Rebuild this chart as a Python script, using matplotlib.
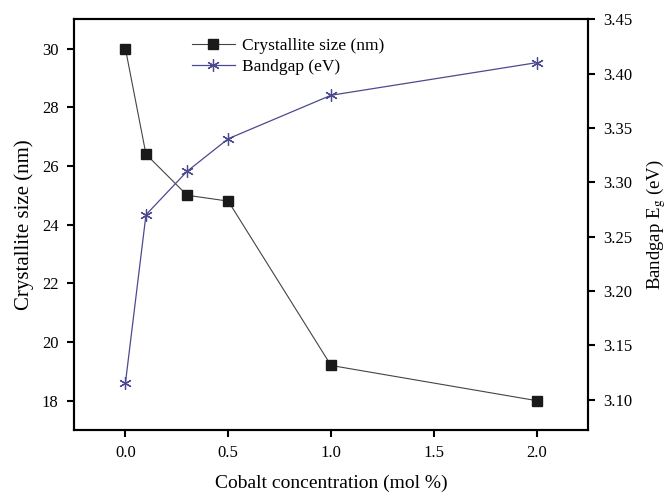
import matplotlib
matplotlib.use("Agg")
import matplotlib.pyplot as plt

# Data
cobalt = [0.0, 0.1, 0.3, 0.5, 1.0, 2.0]
crystallite_size = [30.0, 26.4, 25.0, 24.8, 19.2, 18.0]
bandgap = [3.115, 3.27, 3.31, 3.34, 3.38, 3.41]

plt.rcParams['font.family'] = ['Liberation Serif', 'DejaVu Serif']
plt.rcParams['mathtext.fontset'] = 'stix'

fig = plt.figure(figsize=(6.69, 4.92), dpi=100)
ax = fig.add_axes([0.1106, 0.126, 0.7684, 0.835])
ax2 = ax.twinx()

purple = '#4b4a8e'
l1, = ax.plot(cobalt, crystallite_size, color='#444444', lw=0.8,
              marker='s', ms=6.5, mfc='#1a1a1a', mec='#1a1a1a',
              label='Crystallite size (nm)')
l2, = ax2.plot(cobalt, bandgap, color=purple, lw=0.9,
               marker=(6, 2, 0), ms=9, mec=purple, mew=0.9,
               label='Bandgap (eV)')

ax.set_xlim(-0.25, 2.25)
ax.set_ylim(17, 31)
ax2.set_ylim(3.072, 3.45)
ax.set_xticks([0.0, 0.5, 1.0, 1.5, 2.0])
ax.set_yticks([18, 20, 22, 24, 26, 28, 30])
ax2.set_yticks([3.10, 3.15, 3.20, 3.25, 3.30, 3.35, 3.40, 3.45])
ax.xaxis.set_major_formatter(matplotlib.ticker.FormatStrFormatter('%.1f'))
ax2.yaxis.set_major_formatter(matplotlib.ticker.FormatStrFormatter('%.2f'))

for a in (ax, ax2):
    for s in a.spines.values():
        s.set_linewidth(1.5)
    a.tick_params(direction='out', length=5, width=1.5, labelsize=12, pad=6)

ax.set_xlabel('Cobalt concentration (mol %)', fontsize=14, labelpad=10)
ax.set_ylabel('Crystallite size (nm)', fontsize=15, labelpad=6)
ax2.set_ylabel('Bandgap E$_\\mathrm{g}$ (eV)', fontsize=13.5, rotation=90, labelpad=8)

ax.legend(handles=[l1, l2], loc='upper left', bbox_to_anchor=(0.205, 0.985),
          frameon=False, fontsize=12.5, handlelength=2.5, handletextpad=0.4,
          labelspacing=0.3, borderpad=0.2)

fig.savefig('out.png', dpi=100)
